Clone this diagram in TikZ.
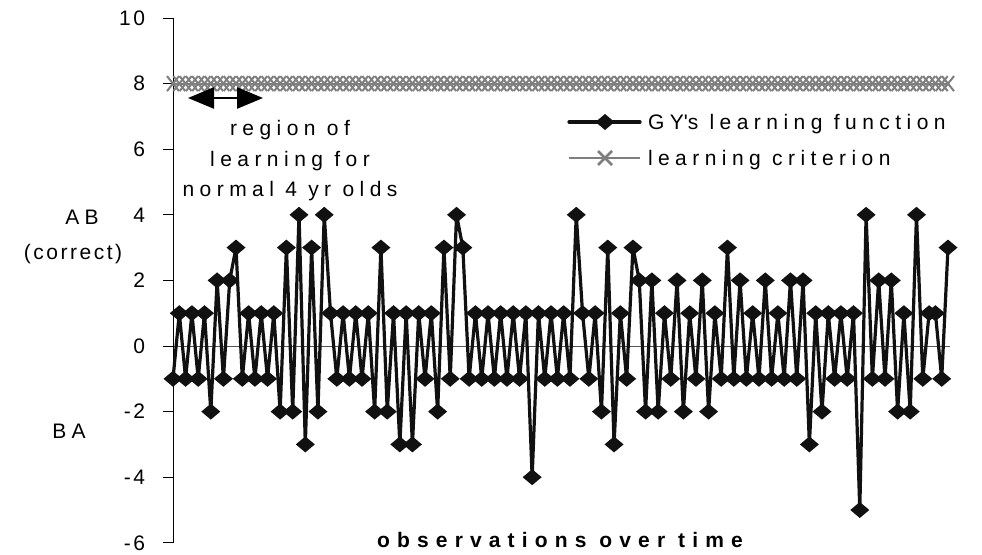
\documentclass[tikz,border=0pt]{standalone}
\usepackage{fontspec}
\setmainfont{Liberation Sans}
\newfontfamily\lsfont{Liberation Sans}[LetterSpace=26]
\newfontfamily\tkfont{Liberation Sans}[LetterSpace=12]
\newfontfamily\ttlfont{Liberation Sans}[LetterSpace=34]
\usetikzlibrary{arrows.meta}
\definecolor{datablack}{HTML}{111111}
\definecolor{critgray}{HTML}{7F7F7F}
\definecolor{axisgray}{HTML}{555555}
\def\gydata{-1,1,-1,1,-1,1,-2,2,-1,2,3,-1,1,-1,1,-1,1,-2,3,-2,4,-3,3,-2,4,1,-1,1,-1,1,-1,1,-2,3,-2,1,-3,1,-3,1,-1,1,-2,3,-1,4,3,-1,1,-1,1,-1,1,-1,1,-1,1,-4,1,-1,1,-1,1,-1,4,1,-1,1,-2,3,-3,1,-1,3,2,-2,2,-2,1,-1,2,-2,1,-1,2,-2,1,-1,3,-1,2,-1,1,-1,2,-1,1,-1,2,-1,2,-3,1,-2,1,-1,1,-1,1,-5,4,-1,2,-1,2,-2,1,-2,4,-1,1,1,-1,3}
\def\gyrest{1,-1,1,-1,1,-2,2,-1,2,3,-1,1,-1,1,-1,1,-2,3,-2,4,-3,3,-2,4,1,-1,1,-1,1,-1,1,-2,3,-2,1,-3,1,-3,1,-1,1,-2,3,-1,4,3,-1,1,-1,1,-1,1,-1,1,-1,1,-4,1,-1,1,-1,1,-1,4,1,-1,1,-2,3,-3,1,-1,3,2,-2,2,-2,1,-1,2,-2,1,-1,2,-2,1,-1,3,-1,2,-1,1,-1,2,-1,1,-1,2,-1,2,-3,1,-2,1,-1,1,-1,1,-5,4,-1,2,-1,2,-2,1,-2,4,-1,1,1,-1,3}
\begin{document}
\begin{tikzpicture}[x=1pt,y=-1pt,
  font=\lsfont\fontsize{21}{25}\selectfont,
  datal/.style={line width=3.2pt,color=datablack,line join=round,line cap=round},
  crit/.style={line width=2pt,color=critgray},
  lbl/.style={inner sep=0pt,outer sep=0pt}]
\useasboundingbox (0,0) rectangle (982,554);
% axes
\draw[line width=1pt,color=axisgray] (173,346) -- (950,346);
\draw[line width=1pt,color=black] (173,18) -- (173,543);
\foreach \t [count=\k] in {10,8,6,4,2,0,-2,-4,-6} {
  \draw[line width=1pt] (163,{346-\t*32.8}) -- (173,{346-\t*32.8});
  \node[lbl,anchor=east,font=\tkfont\fontsize{21}{25}\selectfont] (tick\k) at (145,{346-\t*32.8}) {\t};
}
% criterion
\draw[crit] (173,83.6) -- (948,83.6);
\foreach \i in {0,...,123} {
  \draw[crit] ({173+\i*6.3008},83.6) +(-6,-7.5) -- +(6,7.5) +(-6,7.5) -- +(6,-7.5);
}
% data
\draw[datal] (173,{346+32.8}) \foreach \v [count=\i] in \gyrest {-- ({173+\i*6.3008},{346-\v*32.8})};
\foreach \v [count=\i from 0] in \gydata {
  \fill[datablack] ({173+\i*6.3008},{346-\v*32.8}) +(-9.5,0) -- +(0,-8) -- +(9.5,0) -- +(0,8) -- cycle;
}
% legend
\draw[datal] (569,122) -- (640,122);
\fill[datablack] (605,122) +(-9.5,0) -- +(0,-8) -- +(9.5,0) -- +(0,8) -- cycle;
\node[lbl,anchor=base west] (leg1) at (648,129) {GY\textquotesingle s learning function};
\draw[crit,line width=2.5pt] (569,158) -- (640,158);
\draw[crit,line width=2.5pt] (605,158) +(-7,-7) -- +(7,7) +(-7,7) -- +(7,-7);
\node[lbl,anchor=base west] (leg2) at (648,165) {learning criterion};
% arrow
\coordinate (al) at (188,98);
\coordinate (ar) at (263,98);
\draw[line width=2.5pt,{Triangle[length=26pt,width=21pt]}-{Triangle[length=26pt,width=21pt]}] (al) -- (ar);
% region text
\node[lbl,anchor=base] (r1) at (290,135) {region of};
\node[lbl,anchor=base] (r2) at (290,166) {learning for};
\node[lbl,anchor=base] (r3) at (290,196) {normal 4 yr olds};
% axis labels
\node[lbl,anchor=base] (ab) at (82,224) {AB};
\node[lbl,anchor=base,font=\tkfont\fontsize{21}{25}\selectfont] (corr) at (73,259) {(correct)};
\node[lbl,anchor=base] (ba) at (69,438) {BA};
\node[lbl,anchor=base] (title) at (560,547) {\ttlfont\bfseries observations over time};
\end{tikzpicture}
\end{document}
